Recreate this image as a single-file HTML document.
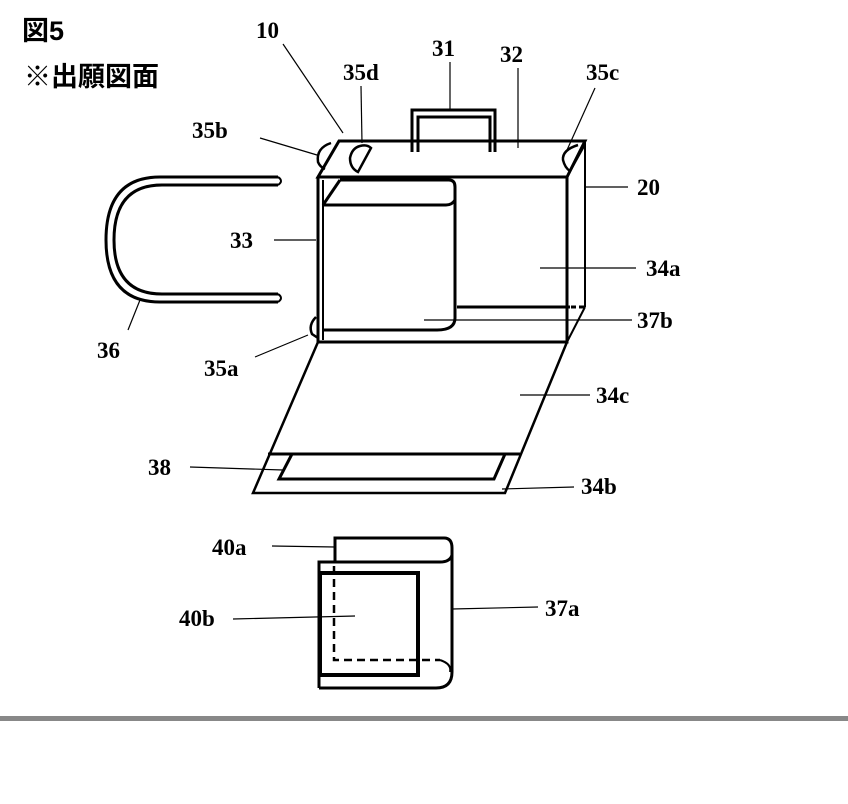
<!DOCTYPE html>
<html><head><meta charset="utf-8"><style>
body{margin:0;background:#fff;width:848px;height:804px;overflow:hidden}
svg{display:block}
.l{font-family:"Liberation Serif",serif;font-size:23px;font-weight:bold;fill:#000}
.t{font-family:"Liberation Sans","Noto Sans CJK JP",sans-serif;font-size:27px;font-weight:bold;fill:#000}
</style></head><body>
<svg width="848" height="804" viewBox="0 0 848 804">
<text class="t" x="22" y="40">図5</text>
<text class="t" x="24" y="86">※出願図面</text>
<g fill="none" stroke="#000" stroke-width="3">
<path d="M339,141 L585,141 L567,177 L318,177 Z"/>
<path d="M318,177 L318,342 L567,342 L567,177"/>
<line x1="323" y1="180" x2="323" y2="340" stroke-width="2"/>
<path d="M585,141 L585,307 M585,307 L567,342" stroke-width="2"/>
<path d="M412,152 L412,110 L495,110 L495,152" stroke-width="3"/>
<path d="M418,152 L418,117 L490,117 L490,152" stroke-width="3"/>
<path d="M340,180 L449,180 Q455,180 455,187 L455,200 Q452,205 446,205 L323,205"/>
<path d="M340,180 L323,205"/>
<path d="M455,200 L455,318 Q455,330 437,330 L323,330"/>
<line x1="457" y1="307" x2="570" y2="307"/>
<line x1="571" y1="307" x2="585" y2="307" stroke-dasharray="5,3"/>
<path d="M331,143 Q316,148 318,162 Q320,167 325,169" stroke-width="2.5"/>
<path d="M360,146 Q352,148 350,158 Q350,168 358,172 L371,148 Q367,144 360,146" stroke-width="2.5"/>
<path d="M578,145 Q562,150 563,160 Q565,168 570,171 L585,144" stroke-width="2.5"/>
<path d="M316,317 Q308,325 312,334 L318,338" stroke-width="2.5"/>
<path d="M318,342 L253,493 L505,493 L567,342" stroke-width="2.5"/>
<line x1="268" y1="454" x2="520" y2="454"/>
<path d="M292,454 L279,479 L494,479 L505,454"/>
<path d="M278,177 L160,177 Q106,177 106,240 Q106,302 160,302 L278,302" stroke-width="3"/>
<path d="M278,185 L162,185 Q114,185 114,240 Q114,294 162,294 L278,294" stroke-width="3"/>
<path d="M278,177 Q284,181 278,185 M278,294 Q284,298 278,302" stroke-width="2"/>
<path d="M335,562 L335,538 L444,538 Q452,538 452,548 L452,555 Q450,562 440,562" stroke-width="3"/>
<path d="M319,688 L319,562 L440,562 M452,555 L452,672 Q452,688 436,688 L319,688" stroke-width="3"/>
<rect x="320" y="573" width="98" height="102" stroke-width="4"/>
<path d="M334,566 L334,660 L440,660" stroke-width="2.5" stroke-dasharray="8,5"/>
<path d="M440,660 Q452,664 450,672" stroke-width="2"/>
</g>
<g stroke="#000" stroke-width="1.2" fill="none">
<path d="M283,44 L343,133"/>
<path d="M361,86 L362,143"/>
<path d="M450,62 L450,110"/>
<path d="M518,68 L518,148"/>
<path d="M595,88 L567,150"/>
<path d="M260,138 L317,155"/>
<path d="M586,187 L628,187"/>
<path d="M274,240 L316,240"/>
<path d="M540,268 L636,268"/>
<path d="M424,320 L632,320"/>
<path d="M255,357 L308,335"/>
<path d="M128,330 L140,300"/>
<path d="M520,395 L590,395"/>
<path d="M190,467 L283,470"/>
<path d="M502,489 L574,487"/>
<path d="M272,546 L335,547"/>
<path d="M233,619 L355,616"/>
<path d="M452,609 L538,607"/>
</g>
<text class="l" x="256" y="38">10</text>
<text class="l" x="343" y="80">35d</text>
<text class="l" x="432" y="56">31</text>
<text class="l" x="500" y="62">32</text>
<text class="l" x="586" y="80">35c</text>
<text class="l" x="192" y="138">35b</text>
<text class="l" x="637" y="195">20</text>
<text class="l" x="230" y="248">33</text>
<text class="l" x="646" y="276">34a</text>
<text class="l" x="637" y="328">37b</text>
<text class="l" x="97" y="358">36</text>
<text class="l" x="204" y="376">35a</text>
<text class="l" x="596" y="403">34c</text>
<text class="l" x="148" y="475">38</text>
<text class="l" x="581" y="494">34b</text>
<text class="l" x="212" y="555">40a</text>
<text class="l" x="179" y="626">40b</text>
<text class="l" x="545" y="616">37a</text>
<rect x="0" y="716" width="848" height="5" fill="#888"/>
</svg>
</body></html>
